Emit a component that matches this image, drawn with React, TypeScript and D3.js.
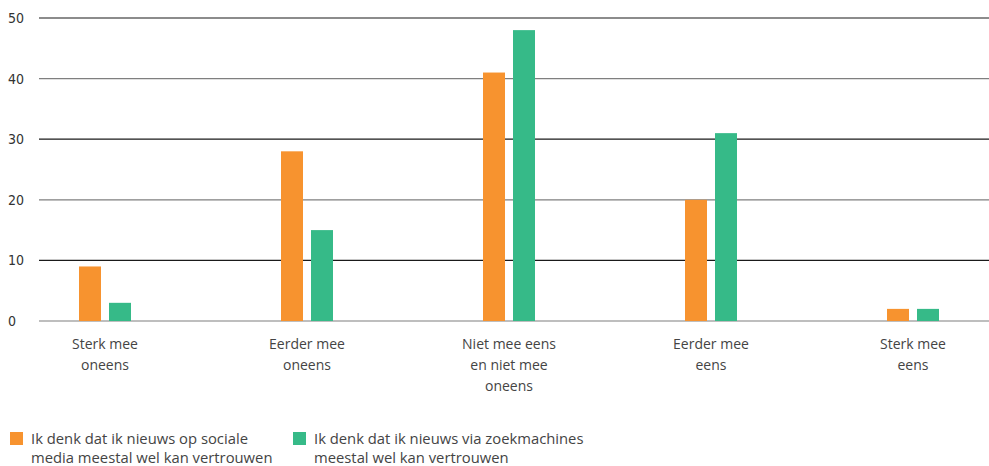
import React from "react";
import * as d3 from "d3";

const categories: string[][] = [
  ["Sterk mee", "oneens"],
  ["Eerder mee", "oneens"],
  ["Niet mee eens", "en niet mee", "oneens"],
  ["Eerder mee", "eens"],
  ["Sterk mee", "eens"],
];
const socialeMedia = [9, 28, 41, 20, 2];
const zoekmachines = [3, 15, 48, 31, 2];
const yTicks = [0, 10, 20, 30, 40, 50];
const legendLabels: string[][] = [
  ["Ik denk dat ik nieuws op sociale", "media meestal wel kan vertrouwen"],
  ["Ik denk dat ik nieuws via zoekmachines", "meestal wel kan vertrouwen"],
];
const colors = ["#F7932F", "#36BA88"];

const W = 989;
const H = 466;

export default function App() {
  const y = d3.scaleLinear().domain([0, 50]).range([321, 18]);
  const x = d3
    .scaleBand<number>()
    .domain(categories.map((_, i) => i))
    .range([4, 1014]);
  const barW = 22;
  const gap = 8;
  const series = [socialeMedia, zoekmachines];
  const font = "'Open Sans', 'Noto Sans', sans-serif";

  return (
    <svg
      width={W}
      height={H}
      style={{ position: "absolute", left: 0, top: 0, background: "#fff" }}
    >
      {yTicks.map((t, i) => (
        <g key={t}>
          <line
            x1={39}
            x2={W}
            y1={y(t)}
            y2={y(t)}
            stroke={i % 2 === 0 ? "#7f7f7f" : "#1a1a1a"}
            strokeWidth={1.2}
          />
          <text
            x={8}
            y={y(t)}
            dy="0.35em"
            fontFamily="'Liberation Sans Narrow', 'DejaVu Sans Condensed', sans-serif"
            fontSize={14}
            fill="#333"
          >
            {t}
          </text>
        </g>
      ))}
      {categories.map((cat, i) => {
        const cx = (x(i) as number) + x.bandwidth() / 2;
        return (
          <g key={i}>
            {series.map((s, j) => {
              const bx = cx - gap / 2 - barW + j * (barW + gap);
              return (
                <rect
                  key={j}
                  x={bx}
                  y={y(s[i])}
                  width={barW}
                  height={y(0) - y(s[i])}
                  fill={colors[j]}
                />
              );
            })}
            <text
              textAnchor="middle"
              fontFamily={font}
              fontSize={14}
              fill="#444"
            >
              {cat.map((line, k) => (
                <tspan key={k} x={cx} y={349 + k * 21}>
                  {line}
                </tspan>
              ))}
            </text>
          </g>
        );
      })}
      {legendLabels.map((lines, j) => {
        const lx = j === 0 ? 10 : 293;
        return (
          <g key={j}>
            <rect x={lx} y={432} width={13} height={13} fill={colors[j]} />
            <text fontFamily={font} fontSize={14.8} fill="#444">
              {lines.map((line, k) => (
                <tspan key={k} x={lx + 21} y={443.5 + k * 19}>
                  {line}
                </tspan>
              ))}
            </text>
          </g>
        );
      })}
    </svg>
  );
}
